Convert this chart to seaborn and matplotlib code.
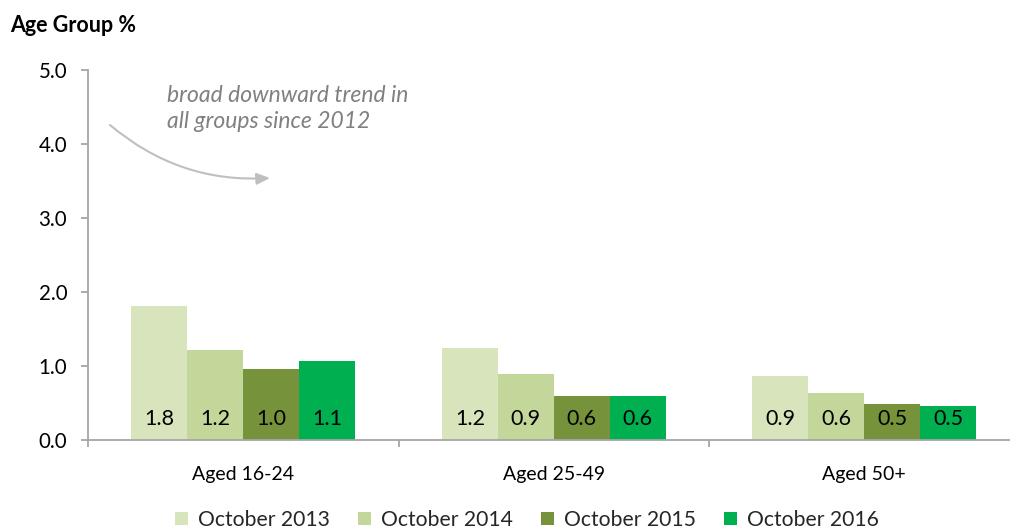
import matplotlib
matplotlib.use("Agg")
import matplotlib.pyplot as plt
import seaborn as sns
import pandas as pd

groups = ["Aged 16-24", "Aged 25-49", "Aged 50+"]
periods = ["October 2013", "October 2014", "October 2015", "October 2016"]
oct_2013 = [1.81, 1.24, 0.86]
oct_2014 = [1.22, 0.89, 0.64]
oct_2015 = [0.96, 0.59, 0.49]
oct_2016 = [1.07, 0.59, 0.46]
y_ticks = [0.0, 1.0, 2.0, 3.0, 4.0, 5.0]

colors = ["#D8E4BC", "#C4D79B", "#76933C", "#00B050"]

rows = []
for period, values in zip(periods, [oct_2013, oct_2014, oct_2015, oct_2016]):
    for g, v in zip(groups, values):
        rows.append({"group": g, "period": period, "value": v})
df = pd.DataFrame(rows)

sns.set_style("white")
plt.rcParams["font.family"] = ["Lato", "DejaVu Sans"]

W, H = 1010, 531
fig = plt.figure(figsize=(W / 100, H / 100), dpi=100)
ax = fig.add_axes([88 / W, (H - 440) / H, (1019.5 - 88) / W, 370 / H])

sns.barplot(data=df, x="group", y="value", hue="period", order=groups,
            hue_order=periods, palette=colors, saturation=1, width=0.72,
            gap=0, linewidth=0, ax=ax)

# value labels sit near the foot of each bar
for container in ax.containers:
    for bar in container:
        h = bar.get_height()
        ax.text(bar.get_x() + bar.get_width() / 2, 0.28, f"{h:.1f}",
                ha="center", va="center", fontsize=15.5, color="#000000")

ax.set_ylim(0, 5.0)
ax.set_xlim(-0.5, 2.5)
ax.set_yticks(y_ticks)
ax.set_yticklabels([f"{t:.1f}" for t in y_ticks])
ax.set_xlabel("")
ax.set_ylabel("")

spine_col = "#A6A6A6"
for s in ["top", "right"]:
    ax.spines[s].set_visible(False)
for s in ["left", "bottom"]:
    ax.spines[s].set_color(spine_col)
    ax.spines[s].set_linewidth(1.3)

ax.tick_params(axis="y", which="major", length=5, width=1.3, color=spine_col,
               pad=10, labelsize=14.8, labelcolor="#000000", left=True)
ax.tick_params(axis="x", which="major", length=0, pad=19, labelsize=14,
               labelcolor="#000000")
ax.set_xticks([-0.5, 0.5, 1.5, 2.5], minor=True)
ax.tick_params(axis="x", which="minor", length=5, width=1.3, color=spine_col,
               bottom=True)

sns.move_legend(ax, "center", bbox_to_anchor=(527 / W, (H - 520) / H),
                bbox_transform=fig.transFigure, ncol=4, frameon=False,
                title=None, fontsize=15.2, handlelength=0.62, handleheight=0.62,
                handletextpad=0.5, columnspacing=1.3, borderpad=0)

fig.text(10 / W, (H - 25) / H, "Age Group %", fontsize=15.5, fontweight="bold",
         ha="left", va="center", color="#000000")

fig.text(167 / W, (H - 95) / H, "broad downward trend in", fontsize=16.5,
         style="italic", color="#808080", ha="left", va="center")
fig.text(167 / W, (H - 122) / H, "all groups since 2012", fontsize=16.5,
         style="italic", color="#808080", ha="left", va="center")

ax.annotate("", xy=(270, H - 178), xycoords="figure pixels",
            xytext=(110, H - 125), textcoords="figure pixels",
            arrowprops=dict(arrowstyle="-|>,head_length=0.8,head_width=0.35",
                            color="#BFBFBF", lw=1.5,
                            connectionstyle="arc3,rad=0.2",
                            shrinkA=0, shrinkB=0))

fig.savefig("out.png", dpi=100)
